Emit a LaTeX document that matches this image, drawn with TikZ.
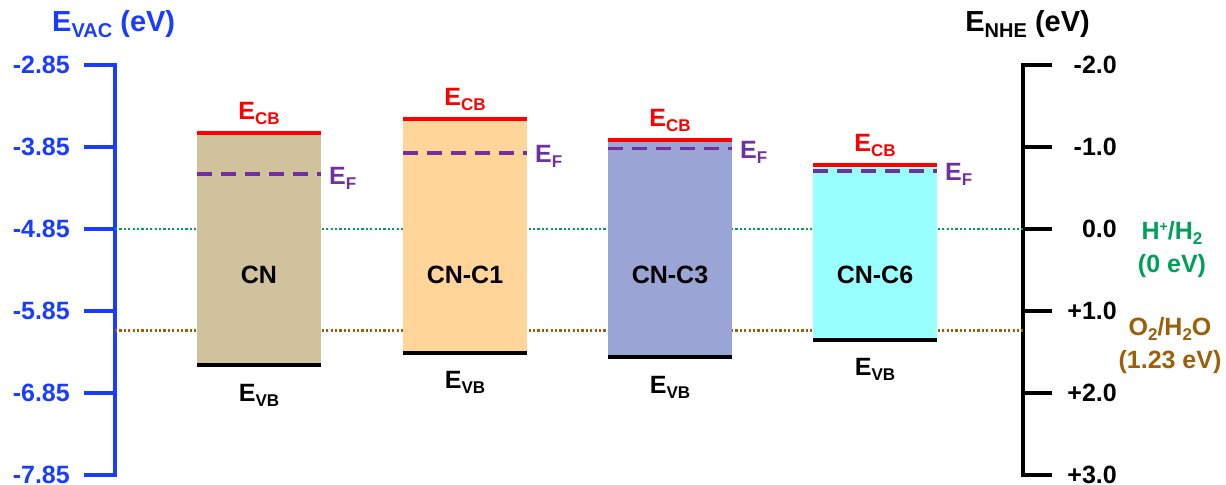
\documentclass[tikz,border=0pt]{standalone}
\usepackage{fontspec}
\setmainfont{Liberation Sans}
\usetikzlibrary{positioning}
\definecolor{axisblue}{HTML}{1A3CFF}
\definecolor{cbred}{HTML}{FF0000}
\definecolor{efpurple}{HTML}{7030A0}
\definecolor{hgreen}{HTML}{00A05A}
\definecolor{obrown}{HTML}{9C5F0A}
\definecolor{cnfill}{HTML}{CFC29C}
\definecolor{conefill}{HTML}{FFD59A}
\definecolor{cthreefill}{HTML}{9AA5D6}
\definecolor{csixfill}{HTML}{99FFFF}
\newcommand{\lo}[1]{\raisebox{-5pt}{\fontsize{17}{17}\selectfont #1}}
\newcommand{\hi}[1]{\raisebox{8pt}{\fontsize{14}{14}\selectfont #1}}
\newcommand{\bigsub}[1]{\raisebox{-6pt}{\fontsize{20}{20}\selectfont #1}}

\begin{document}
\begin{tikzpicture}[x=1pt,y=82pt,inner sep=0pt,font=\fontsize{25}{33}\selectfont\bfseries,
title/.style={font=\fontsize{29}{33}\selectfont\bfseries},
axis/.style={line width=4pt},
cb/.style={line width=4pt,cbred},
vb/.style={line width=4pt,black},
ef/.style={line width=3.5pt,efpurple,dash pattern=on 15pt off 9pt},
redox/.style={line width=2.5pt,dash pattern=on 2.2pt off 2.2pt}]
\useasboundingbox (0,-7.96) rectangle (1226,-2.057);
% the two energy scales
\draw[axis,axisblue] (84,-2.85) -- (115,-2.85) -- (115,-7.85) -- (84,-7.85);
\draw[axis] (1052,-2.85) -- (1023,-2.85) -- (1023,-7.85) -- (1052,-7.85);
\foreach \e/\n [count=\i] in {-2.85/-2.0,-3.85/-1.0,-4.85/0.0,-5.85/+1.0,-6.85/+2.0,-7.85/+3.0}{
  \draw[axis,axisblue] (84,\e) -- (115,\e);
  \draw[axis] (1023,\e) -- (1052,\e);
  \node[axisblue,anchor=east] (vac\i) at (70,\e) {\e};
  \node[anchor=east] (nhe\i) at (1117,\e) {\n};
}
\node[title,axisblue,anchor=base west] (vactitle) at (52,-2.44) {E\bigsub{VAC} (eV)};
\node[title,anchor=base east] (nhetitle) at (1090,-2.44) {E\bigsub{NHE} (eV)};
% redox potentials
\draw[redox,hgreen] (115,-4.85) -- (1023,-4.85);
\draw[redox,obrown] (115,-6.09) -- (1023,-6.09);
\node[hgreen,align=center] (hplus) at (1172,-5.106) {H\hi{+}/H\lo{2}\\(0 eV)};
\node[obrown,align=center] (otwo) at (1170,-6.265) {O\lo{2}/H\lo{2}O\\(1.23 eV)};
% band structures
\foreach \nm/\xl/\cbv/\efv/\vbv/\col [count=\i] in {CN/197/-3.68/-4.18/-6.51/cnfill,
    CN-C1/403/-3.51/-3.92/-6.36/conefill,CN-C3/608/-3.76/-3.87/-6.41/cthreefill,
    CN-C6/813/-4.07/-4.14/-6.20/csixfill}{
  \fill[\col] (\xl,\cbv) rectangle (\xl+124,\vbv);
  \draw[cb] (\xl,\cbv) -- (\xl+124,\cbv);
  \draw[vb] (\xl,\vbv) -- (\xl+124,\vbv);
  \draw[ef] (\xl,\efv) -- (\xl+124,\efv);
  \node[cbred,anchor=base] (ecb\i) at (\xl+62,\cbv+0.165) {E\lo{CB}};
  \node[efpurple,anchor=base west] (ef\i) at (\xl+132,\efv-0.122) {E\lo{F}};
  \node[anchor=base] (evb\i) at (\xl+62,\vbv-0.44) {E\lo{VB}};
  \node (band\i) at (\xl+62,-5.41) {\nm};
}
\end{tikzpicture}
\end{document}
